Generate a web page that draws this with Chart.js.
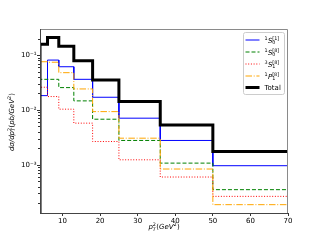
<!DOCTYPE html>
<html><head><meta charset="utf-8">
<script src="https://cdn.jsdelivr.net/npm/chart.js@4/dist/chart.umd.min.js"></script>
<style>html,body{margin:0;padding:0;background:#fff;overflow:hidden}canvas{display:block}</style>
</head><body>
<canvas id="c" width="320" height="240"></canvas>
<script>
// ---- data ----
const BIN_EDGES = [4, 6, 9, 13, 18, 25, 36, 50, 70];
const S0_1 = [0.0182, 0.081, 0.0612, 0.0361, 0.0170, 0.00706, 0.00277, 0.00096];
const S0_8 = [0.0361, 0.0361, 0.0255, 0.0146, 0.00676, 0.00277, 0.00107, 0.000351];
const S1_8 = [0.0259, 0.0175, 0.0103, 0.00573, 0.00265, 0.00123, 0.000597, 0.000265];
const P1_8 = [0.0755, 0.074, 0.0477, 0.0241, 0.0093, 0.00305, 0.000835, 0.000187];
const TOTAL = [0.157, 0.210, 0.144, 0.0788, 0.0351, 0.01415, 0.00533, 0.00175];
const X_TICKS = [10, 20, 30, 40, 50, 60, 70];
const Y_TICKS = [1e-3, 1e-2, 1e-1];
const Y_TICK_LABELS = ['10⁻³', '10⁻²', '10⁻¹'];
const X_MIN = 4, X_MAX = 70;
const Y_MIN = 1.318e-4, Y_MAX = 0.2985;
// legend labels as rich-text tokens
const LABEL_S0_1 = [{sup:'1'}, {t:'S', i:1}, {sub:'0', sup:'[1]'}];
const LABEL_S0_8 = [{sup:'1'}, {t:'S', i:1}, {sub:'0', sup:'[8]'}];
const LABEL_S1_8 = [{sup:'3'}, {t:'S', i:1}, {sub:'1', sup:'[8]'}];
const LABEL_P1_8 = [{sup:'1'}, {t:'P', i:1}, {sub:'1', sup:'[8]'}];
const LABEL_TOTAL = [{t:'Total'}];
const X_TITLE = [{t:'p', i:1}, {sub:'T', sup:'2', i:1}, {t:'('}, {t:'GeV', i:1}, {sup:'2'}, {t:')'}];
const Y_TITLE = [{t:'dσ/dp', i:1}, {sub:'T', sup:'2', i:1}, {t:'('}, {t:'pb/GeV', i:1}, {sup:'2'}, {t:')'}];

const FONT = "'DejaVu Sans'";

function stepPoints(values) {
  const pts = [{x: BIN_EDGES[0], y: Y_MIN}];
  values.forEach((v, i) => { pts.push({x: BIN_EDGES[i], y: v}); pts.push({x: BIN_EDGES[i + 1], y: v}); });
  return pts;
}

function fontOf(size, it) { return (it ? 'italic ' : '') + size + 'px ' + FONT; }
function tokWidth(ctx, tk, size) {
  const s = size * 0.7;
  if (tk.t !== undefined) { ctx.font = fontOf(size, tk.i); return ctx.measureText(tk.t).width; }
  let w = 0;
  if (tk.sup !== undefined) { ctx.font = fontOf(s, 0); w = Math.max(w, ctx.measureText(tk.sup).width); }
  if (tk.sub !== undefined) { ctx.font = fontOf(s, tk.i); w = Math.max(w, ctx.measureText(tk.sub).width); }
  return w + 0.3;
}
function richWidth(ctx, toks, size) { return toks.reduce((a, tk) => a + tokWidth(ctx, tk, size), 0); }
function drawRich(ctx, toks, x, y, size) {
  const s = size * 0.7;
  ctx.textBaseline = 'alphabetic'; ctx.textAlign = 'left';
  for (const tk of toks) {
    const w = tokWidth(ctx, tk, size);
    if (tk.t !== undefined) { ctx.font = fontOf(size, tk.i); ctx.fillText(tk.t, x, y); }
    else {
      if (tk.sup !== undefined) { ctx.font = fontOf(s, 0); ctx.fillText(tk.sup, x, y - size * 0.42); }
      if (tk.sub !== undefined) { ctx.font = fontOf(s, tk.i); ctx.fillText(tk.sub, x, y + size * 0.28); }
    }
    x += w;
  }
}

const decorPlugin = {
  id: 'decor',
  afterDatasetsDraw(chart) {
    const ctx = chart.ctx, a = chart.chartArea, ys = chart.scales.y;
    ctx.save();
    // frame
    ctx.strokeStyle = '#8a8a8a'; ctx.lineWidth = 1;
    ctx.beginPath();
    ctx.moveTo(a.left, a.top + 0.5); ctx.lineTo(a.right - 0.5, a.top + 0.5); ctx.lineTo(a.right - 0.5, a.bottom);
    ctx.stroke();
    ctx.strokeStyle = '#444';
    ctx.beginPath(); ctx.moveTo(a.left, a.bottom + 0.5); ctx.lineTo(a.right, a.bottom + 0.5); ctx.stroke();
    ctx.beginPath(); ctx.moveTo(a.left + 0.5, a.top); ctx.lineTo(a.left + 0.5, a.bottom); ctx.stroke();
    // y ticks (major + minor) through the scale
    ctx.strokeStyle = '#333';
    for (let e = -5; e <= 0; e++) {
      for (let m = 1; m <= 9; m++) {
        const v = m * Math.pow(10, e);
        if (v < Y_MIN || v > Y_MAX) continue;
        const py = Math.round(ys.getPixelForValue(v)) + 0.5;
        const len = m === 1 ? 3 : 2;
        ctx.beginPath(); ctx.moveTo(a.left - len, py); ctx.lineTo(a.left, py); ctx.stroke();
      }
    }
    ctx.restore();
  },
  afterDraw(chart) {
    const ctx = chart.ctx, a = chart.chartArea;
    ctx.save();
    ctx.fillStyle = '#000';
    // x title
    const fs = 7;
    const wx = richWidth(ctx, X_TITLE, fs);
    drawRich(ctx, X_TITLE, (a.left + a.right) / 2 - wx / 2, 229, fs);
    // y title
    const wy = richWidth(ctx, Y_TITLE, fs);
    ctx.save();
    ctx.translate(13.5, (a.top + a.bottom) / 2 + 1);
    ctx.rotate(-Math.PI / 2);
    drawRich(ctx, Y_TITLE, -wy / 2, 0, fs);
    ctx.restore();
    // legend
    const bx = 243.5, by = 32.5, bw = 41, bh = 62;
    ctx.fillStyle = 'rgba(255,255,255,0.8)';
    ctx.strokeStyle = '#cccccc'; ctx.lineWidth = 1;
    ctx.beginPath(); ctx.roundRect(bx, by, bw, bh, 2); ctx.fill(); ctx.stroke();
    const labels = [LABEL_S0_1, LABEL_S0_8, LABEL_S1_8, LABEL_P1_8, LABEL_TOTAL];
    const rows = [40, 52, 64, 76, 87.5];
    chart.data.datasets.forEach((ds, i) => {
      const ry = rows[i];
      ctx.save();
      ctx.strokeStyle = ds.borderColor; ctx.lineWidth = ds.borderWidth;
      ctx.setLineDash(ds.borderDash || []);
      ctx.beginPath(); ctx.moveTo(245.5, ry); ctx.lineTo(259.5, ry); ctx.stroke();
      ctx.restore();
      ctx.fillStyle = '#000';
      drawRich(ctx, labels[i], 264.5, ry + 2.5, 7);
    });
    ctx.restore();
  }
};

const datasets = [
  {label: '1S0[1]', data: stepPoints(S0_1), borderColor: '#0000ff', borderWidth: 1, borderDash: [], order: 5},
  {label: '1S0[8]', data: stepPoints(S0_8), borderColor: '#008000', borderWidth: 1, borderDash: [4, 2], order: 4},
  {label: '3S1[8]', data: stepPoints(S1_8), borderColor: '#ff0000', borderWidth: 1, borderDash: [1, 1.7], order: 3},
  {label: '1P1[8]', data: stepPoints(P1_8), borderColor: '#ffa500', borderWidth: 1, borderDash: [6.5, 1.7, 1, 1.7], order: 2},
  {label: 'Total', data: stepPoints(TOTAL), borderColor: '#000000', borderWidth: 3, borderDash: [], order: 1}
];
datasets.forEach(d => { d.pointRadius = 0; d.fill = false; d.tension = 0; d.borderJoinStyle = 'miter'; });

new Chart(document.getElementById('c'), {
  type: 'line',
  data: {datasets},
  plugins: [decorPlugin],
  options: {
    responsive: false, animation: false, devicePixelRatio: 1,
    layout: {padding: {left: 0, top: 29, right: 32, bottom: 0}},
    plugins: {legend: {display: false}, tooltip: {enabled: false}},
    scales: {
      x: {
        type: 'linear', min: X_MIN, max: X_MAX,
        afterBuildTicks: s => { s.ticks = X_TICKS.map(v => ({value: v})); },
        afterFit: s => { s.height = 27; },
        grid: {drawOnChartArea: false, drawTicks: true, tickLength: 3, color: '#333'},
        border: {display: false},
        ticks: {font: {family: 'DejaVu Sans', size: 7}, color: '#000', padding: 1, maxRotation: 0,
                callback: v => String(v)}
      },
      y: {
        type: 'logarithmic', min: Y_MIN, max: Y_MAX,
        afterBuildTicks: s => { s.ticks = Y_TICKS.map(v => ({value: v})); },
        afterFit: s => { s.width = 40; },
        grid: {display: false, drawTicks: false},
        border: {display: false},
        ticks: {font: {family: 'DejaVu Sans', size: 7}, color: '#000', padding: 3.5,
                callback: v => { const k = Y_TICKS.findIndex(t => Math.abs(t - v) / t < 1e-6); return k >= 0 ? Y_TICK_LABELS[k] : ''; }}
      }
    }
  }
});
</script>
</body></html>
